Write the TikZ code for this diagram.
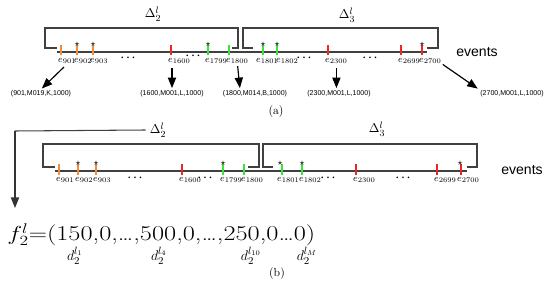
\documentclass[tikz,border=0pt]{standalone}
\usepackage{fontspec}
\newfontfamily\evsans{Liberation Sans}
\usetikzlibrary{arrows.meta}
\definecolor{evorange}{RGB}{240,140,60}
\definecolor{evred}{RGB}{235,40,40}
\definecolor{evgreen}{RGB}{60,225,60}
\begin{document}
\begin{tikzpicture}[x=0.03cm, y=-0.03cm, >={Triangle[width=7pt,length=9pt]}]
	\tikzset{
		evlabel/.style={anchor=north west, inner sep=0pt, font=\fontsize{8}{9}\selectfont},
		evtick/.style={line width=1.3pt},
		tuple/.style={inner sep=1pt, font=\evsans\fontsize{6}{7}\selectfont},
		evstar/.style={inner sep=0pt, font=\fontsize{8}{8}\selectfont},
		evdots/.style={inner sep=0pt, font=\fontsize{9}{9}\selectfont\boldmath},
		bracket/.style={line width=0.9pt, black!75},
		bigarrow/.style={->, line width=1pt, shorten <=4pt, shorten >=1pt},
		delta/.style={inner sep=0pt, font=\fontsize{11}{13}\selectfont},
		evword/.style={inner sep=0pt, font=\evsans\fontsize{12}{14}\selectfont},
		caption/.style={inner sep=0pt, font=\fontsize{10}{12}\selectfont},
		dlabel/.style={inner sep=0pt, font=\fontsize{13}{15}\selectfont},
	}
	\useasboundingbox (0,0) rectangle (550,284);
	% --- 1. (a): brackets and time line ---
	\node[delta] (D2a) at (153,14) {$\Delta_2^{l}$};
	\node[delta] (D3a) at (347,15) {$\Delta_3^{l}$};
	\draw[bracket] (57,48) -- (45,48) -- (45,28) -- (238,28) -- (238,48) -- (232,48);
	\draw[bracket] (253,48) -- (243,48) -- (243,28) -- (438,28) -- (438,48) -- (427,48);
	\draw[bracket] (57,52) -- (427,52);
	% --- 2. (a): events ---
	\draw[evtick, evorange] (61,45) -- (61,55);
	\draw[evtick, evorange] (77,45) -- (77,55);
	\draw[evtick, evorange] (93,45) -- (93,55);
	\draw[evtick, evred] (171,45) -- (171,55);
	\draw[evtick, evgreen] (208,45) -- (208,55);
	\draw[evtick, evgreen] (229,45) -- (229,55);
	\draw[evtick, evgreen] (263,45) -- (263,55);
	\draw[evtick, evgreen] (277,45) -- (277,55);
	\draw[evtick, evred] (328,45) -- (328,55);
	\draw[evtick, evred] (401,45) -- (401,55);
	\draw[evtick, evred] (422,45) -- (422,55);
	\node[evstar] (s902a) at (77,44) {$\star$};
	\node[evstar] (s903a) at (93,44) {$\star$};
	\node[evstar] (s1799a) at (208,44) {$\star$};
	\node[evstar] (s1801a) at (263,44) {$\star$};
	\node[evstar] (s1802a) at (277,44) {$\star$};
	\node[evstar] (s2700a) at (422,44) {$\star$};
	\node[evlabel] (e901a) at (58,58) {$e_{901}$};
	\node[evlabel] (e902a) at (74,58) {$e_{902}$};
	\node[evlabel] (e903a) at (90,58) {$e_{903}$};
	\node[evlabel] (e1600a) at (168,58) {$e_{1600}$};
	\node[evlabel] (e1799a) at (205,58) {$e_{1799}$};
	\node[evlabel] (e1800a) at (226,58) {$e_{1800}$};
	\node[evlabel] (e1801a) at (256,58) {$e_{1801}$};
	\node[evlabel] (e1802a) at (276,58) {$e_{1802}$};
	\node[evlabel] (e2300a) at (325,58) {$e_{2300}$};
	\node[evlabel] (e2699a) at (398,58) {$e_{2699}$};
	\node[evlabel] (e2700a) at (419,58) {$e_{2700}$};
	\node[evdots] (dots1a) at (128,58) {$\cdots$};
	\node[evdots] (dots2a) at (193,56) {$\cdots$};
	\node[evdots] (dots3a) at (304,58) {$\cdots$};
	\node[evdots] (dots4a) at (370,58) {$\cdots$};
	\node[evword] (eva) at (477,52) {events};
	% --- 3. (a): records ---
	\node[tuple] (t901) at (41,94) {(901,M019,K,1000)};
	\node[tuple] (t1600) at (172,94) {(1600,M001,L,1000)};
	\node[tuple] (t1800) at (255,94) {(1800,M014,B,1000)};
	\node[tuple] (t2300) at (339,94) {(2300,M001,L,1000)};
	\node[tuple] (t2700) at (512,94) {(2700,M001,L,1000)};
	\draw[bigarrow] (e901a.south) -- (t901.north);
	\draw[bigarrow] (e1600a.south -| t1600) -- (t1600.north);
	\draw[bigarrow, shorten <=2pt] (e1800a.south) -- ([xshift=-0.45cm]t1800.north);
	\draw[bigarrow] (e2300a.south) -- (e2300a.south |- t2300.north);
	\draw[bigarrow, shorten <=1pt] (e2700a.south east) -- ([xshift=-1cm]t2700.north);
	\node[caption] (capa) at (276,112) {(a)};
	% --- 4. (b): brackets and time line ---
	\node[delta] (D2b) at (158,130) {$\Delta_2^{l}$};
	\node[delta] (D3b) at (377,129) {$\Delta_3^{l}$};
	\draw[bracket] (55,167) -- (43,167) -- (43,144) -- (259,144) -- (259,167) -- (248,167);
	\draw[bracket] (273,167) -- (263,167) -- (263,144) -- (477,144) -- (477,167) -- (467,167);
	\draw[bracket] (55,171) -- (467,171);
	% --- 5. (b): events ---
	\draw[evtick, evorange] (59,164) -- (59,175);
	\draw[evtick, evorange] (78,164) -- (78,175);
	\draw[evtick, evorange] (96,164) -- (96,175);
	\draw[evtick, evred] (182,164) -- (182,175);
	\draw[evtick, evgreen] (223,164) -- (223,175);
	\draw[evtick, evgreen] (244,164) -- (244,175);
	\draw[evtick, evgreen] (282,164) -- (282,175);
	\draw[evtick, evgreen] (302,164) -- (302,175);
	\draw[evtick, evred] (356,164) -- (356,175);
	\draw[evtick, evred] (437,164) -- (437,175);
	\draw[evtick, evred] (461,164) -- (461,175);
	\node[evstar] (s902b) at (78,163) {$\star$};
	\node[evstar] (s903b) at (96,163) {$\star$};
	\node[evstar] (s1799b) at (223,163) {$\star$};
	\node[evstar] (s1801b) at (280,163) {$\star$};
	\node[evstar] (s1802b) at (302,163) {$\star$};
	\node[evstar] (s2700b) at (460,163) {$\star$};
	\node[evlabel] (e901b) at (56,177) {$e_{901}$};
	\node[evlabel] (e902b) at (75,177) {$e_{902}$};
	\node[evlabel] (e903b) at (93,177) {$e_{903}$};
	\node[evlabel] (e1600b) at (179,177) {$e_{1600}$};
	\node[evlabel] (e1799b) at (220,177) {$e_{1799}$};
	\node[evlabel] (e1800b) at (241,177) {$e_{1800}$};
	\node[evlabel] (e1801b) at (277,177) {$e_{1801}$};
	\node[evlabel] (e1802b) at (299,177) {$e_{1802}$};
	\node[evlabel] (e2300b) at (353,177) {$e_{2300}$};
	\node[evlabel] (e2699b) at (434,177) {$e_{2699}$};
	\node[evlabel] (e2700b) at (457,177) {$e_{2700}$};
	\node[evdots] (dots1b) at (135,178) {$\cdots$};
	\node[evdots] (dots2b) at (205,178) {$\cdots$};
	\node[evdots] (dots3b) at (328,178) {$\cdots$};
	\node[evdots] (dots4b) at (403,178) {$\cdots$};
	\node[evword] (evb) at (522,170) {events};
	% --- 6. (b): frequency vector ---
	\coordinate (fcorner) at (15,131);
	\coordinate (ftip) at (15,208);
	\draw[bracket] (D2b.west) ++(-4,0) -- (fcorner);
	\draw[line width=1pt, black!80, ->, shorten >=0pt] (fcorner) -- (ftip);
	\node[inner sep=0pt, font=\fontsize{18}{21}\selectfont, anchor=west, xscale=1.25, transform shape] (fvec) at (7,235)
		{$f_2^{l}{=}$(150,0,\ldots,500,0,\ldots,250,0\ldots0)};
	\node[dlabel] (d1) at (75,256) {$d_2^{l_1}$};
	\node[dlabel] (d4) at (159,256) {$d_2^{l_4}$};
	\node[dlabel] (d10) at (251,256) {$d_2^{l_{10}}$};
	\node[dlabel] (dM) at (307,256) {$d_2^{l_M}$};
	\node[caption] (capb) at (277,274) {(b)};
\end{tikzpicture}
\end{document}
